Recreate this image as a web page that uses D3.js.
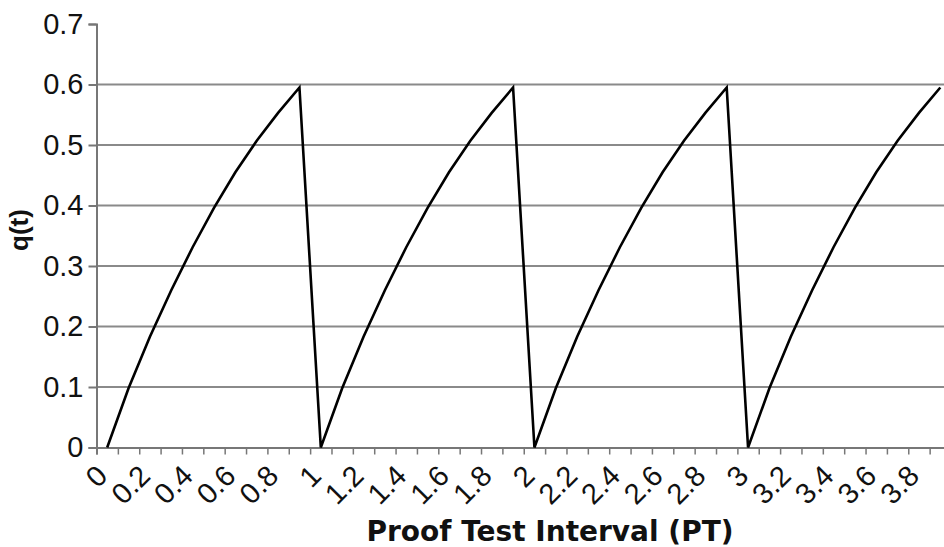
<!DOCTYPE html>
<html>
<head>
<meta charset="utf-8">
<script src="https://cdn.jsdelivr.net/npm/d3@7"></script>
<style>
  body { margin: 0; background: #fff; }
  svg { display: block; }
</style>
</head>
<body>
<div id="chart"></div>
<script>
// categories along the x axis (Excel style category axis)
var categories = ["0","0.1","0.2","0.3","0.4","0.5","0.6","0.7","0.8","0.9",
                  "1","1.1","1.2","1.3","1.4","1.5","1.6","1.7","1.8","1.9",
                  "2","2.1","2.2","2.3","2.4","2.5","2.6","2.7","2.8","2.9",
                  "3","3.1","3.2","3.3","3.4","3.5","3.6","3.7","3.8","3.9"];
// q(t)
var qValues = [0, 0.098, 0.183, 0.26, 0.331, 0.396, 0.455, 0.507, 0.553, 0.595,
               0, 0.098, 0.183, 0.26, 0.331, 0.396, 0.455, 0.507, 0.553, 0.595,
               0, 0.098, 0.183, 0.26, 0.331, 0.396, 0.455, 0.507, 0.553, 0.595,
               0, 0.098, 0.183, 0.26, 0.331, 0.396, 0.455, 0.507, 0.553, 0.595];
var xLabels = ["0","0.2","0.4","0.6","0.8","1","1.2","1.4","1.6","1.8",
               "2","2.2","2.4","2.6","2.8","3","3.2","3.4","3.6","3.8"];
var yTicks = [0, 0.1, 0.2, 0.3, 0.4, 0.5, 0.6, 0.7];

var W = 944, H = 547;
var mLeft = 96.5, mRight = 951, mTop = 24, mBottom = 447.5;

var svg = d3.select("#chart").append("svg")
    .attr("width", W).attr("height", H);

var x = d3.scaleBand().domain(categories).range([mLeft, mRight]).padding(0);
var y = d3.scaleLinear().domain([0, 0.7]).range([mBottom, mTop]);
var edge = d3.scaleLinear().domain([0, categories.length]).range([mLeft, mRight]);

// horizontal gridlines
svg.append("g").selectAll("line")
    .data(yTicks.filter(function(d){ return d > 0 && d < 0.7; }))
    .enter().append("line")
    .attr("x1", mLeft).attr("x2", W)
    .attr("y1", function(d){ return y(d); }).attr("y2", function(d){ return y(d); })
    .attr("stroke", "#8a8a8a").attr("stroke-width", 2);

// y axis
var yAxis = svg.append("g").attr("transform", "translate(" + mLeft + ",0)")
    .call(d3.axisLeft(y).tickValues(yTicks).tickSize(8).tickPadding(5)
        .tickFormat(function(d){ return d === 0 ? "0" : d3.format(".1f")(d); }));
yAxis.select(".domain").attr("stroke", "#777").attr("stroke-width", 2);
yAxis.selectAll(".tick line").attr("stroke", "#777").attr("stroke-width", 2);
yAxis.selectAll("text").attr("font-family", "Liberation Sans, Arial, sans-serif")
    .attr("font-size", 29).attr("fill", "#111");

// x axis: tick marks on category edges
var xAxis = svg.append("g").attr("transform", "translate(0," + mBottom + ")")
    .call(d3.axisBottom(edge).tickValues(d3.range(0, categories.length + 1)).tickSize(7).tickFormat(""));
xAxis.select(".domain").attr("stroke", "#777").attr("stroke-width", 2);
xAxis.selectAll(".tick line").attr("stroke", "#777").attr("stroke-width", 1.5);

// x labels, every other category, rotated
svg.append("g").selectAll("text")
    .data(xLabels).enter().append("text")
    .attr("transform", function(d){
        var cx = x(d) + x.bandwidth() / 2;
        return "translate(" + (cx + 2) + "," + (mBottom + 30) + ") rotate(-45)";
    })
    .attr("text-anchor", "end")
    .attr("font-family", "Liberation Sans, Arial, sans-serif")
    .attr("font-size", 29).attr("fill", "#111")
    .text(function(d){ return d; });

// the line
var line = d3.line()
    .x(function(d, i){ return x(categories[i]) + x.bandwidth() / 2; })
    .y(function(d){ return y(d); });
svg.append("path").datum(qValues)
    .attr("d", line)
    .attr("fill", "none").attr("stroke", "#000").attr("stroke-width", 2.6)
    .attr("stroke-linejoin", "miter");

// axis titles
svg.append("text")
    .attr("x", 550).attr("y", 541)
    .attr("text-anchor", "middle")
    .attr("font-family", "DejaVu Sans, sans-serif").attr("font-weight", "bold")
    .attr("font-size", 28).attr("fill", "#111")
    .text("Proof Test Interval (PT)");

svg.append("text")
    .attr("transform", "translate(28,230) rotate(-90)")
    .attr("text-anchor", "middle")
    .attr("font-family", "Liberation Sans, Arial, sans-serif").attr("font-weight", "bold")
    .attr("font-size", 26).attr("fill", "#111")
    .text("q(t)");
</script>
</body>
</html>
